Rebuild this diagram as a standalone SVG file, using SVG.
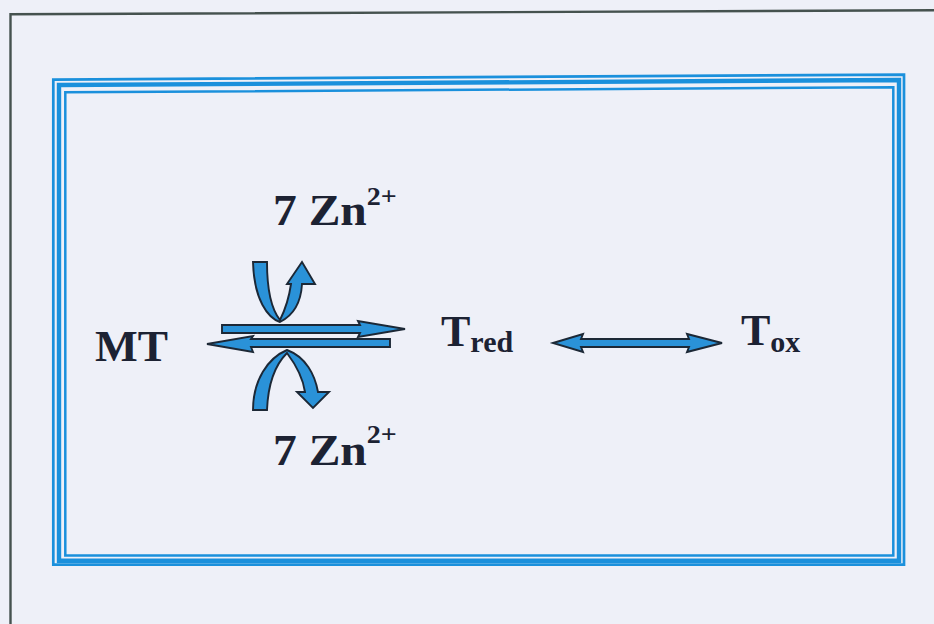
<svg xmlns="http://www.w3.org/2000/svg" width="934" height="624" viewBox="0 0 934 624">
  <style>
    .frame { fill: none; stroke: #1a90dc; }
    .arrow { fill: #2a92d8; stroke: #1c2836; stroke-width: 1.9; stroke-linejoin: miter; }
    .lbl { font-family: "Liberation Serif", "Times New Roman", serif; font-weight: bold; fill: #1c2233; }
  </style>
  <rect x="0" y="0" width="934" height="624" fill="#eef0f8"/>
  <!-- outer thin page border -->
  <path d="M10.5,624 L10.5,14.3 L934,10.2" fill="none" stroke="#45524f" stroke-width="2.4"/>
  <!-- blue triple frame -->
  <g id="frame">
    <path class="frame" stroke-width="2.7" d="M53.3,79.6 L904,74.6 L904,564.7 L53.3,564.7 Z"/>
    <path class="frame" stroke-width="4.4" d="M59,85 L899,80 L899,560.7 L59,560.7 Z"/>
    <path class="frame" stroke-width="2.5" d="M65.3,92.3 L893.3,87.3 L893.3,555.5 L65.3,555.5 Z"/>
  </g>
  <g id="connectors">
    <path class="arrow" d="M222,325 L360,325 L358,321 L405,329 L358,337 L360,333 L222,333 Z"/>
    <path class="arrow" d="M390,339 L251,339 L253,336 L207,344 L253,352 L251,347 L390,347 Z"/>
    <path class="arrow" d="M253,262 L267,262 C267,290 272,310 280,320 C285,310 289,298 291,284 L287,284 L302,262 L315,284 L302,284 C301,302 294,315 280,322 C268,318 254,300 253,262 Z"/>
    <path class="arrow" d="M253,410 L267,410 C268,385 275,365 287,353 C296,365 303,378 305,392 L297,392 L313,408 L329,392 L318,392 C315,375 306,357 287,350 C268,358 253,380 253,410 Z"/>
    <path class="arrow" d="M553,343 L583,334 L581,339 L689,339 L687,334 L722,343 L687,352 L689,347 L581,347 L583,352 Z"/>
  </g>
  <g id="node-MT">
    <text class="lbl" transform="translate(95,361) scale(1.03,1)" font-size="44">MT</text>
  </g>
  <g id="node-Tred">
    <text class="lbl" x="441" y="346" font-size="44">T<tspan font-size="30" dy="6">red</tspan></text>
  </g>
  <g id="node-Tox">
    <text class="lbl" x="741" y="345" font-size="44">T<tspan font-size="30" dy="7">ox</tspan></text>
  </g>
  <g id="node-Zn-top">
    <text class="lbl" transform="translate(273,225) scale(1.08,1)" font-size="44">7 Zn<tspan font-size="26" dy="-20">2+</tspan></text>
  </g>
  <g id="node-Zn-bottom">
    <text class="lbl" transform="translate(273,465) scale(1.08,1)" font-size="44">7 Zn<tspan font-size="26" dy="-22">2+</tspan></text>
  </g>
</svg>
